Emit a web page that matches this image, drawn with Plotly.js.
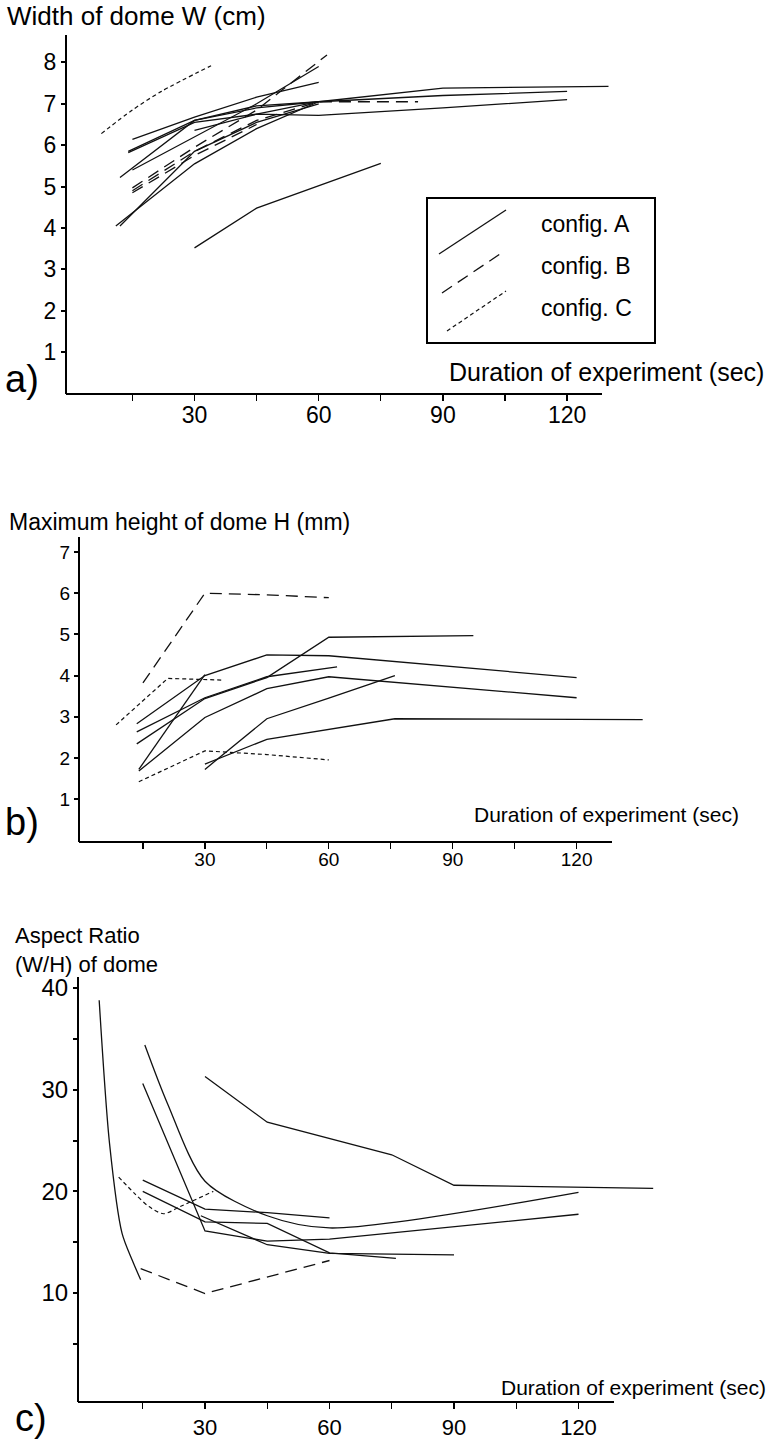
<!DOCTYPE html>
<html><head><meta charset="utf-8">
<script src="https://cdn.plot.ly/plotly-3.0.1.min.js"></script>
<style>html,body{margin:0;padding:0;background:#fff}#chart{width:770px;height:1441px}</style>
</head><body><div id="chart"></div>
<script>
// ---------------- DATA ----------------
// Tick labels
const xTickVals = [15, 30, 45, 60, 75, 90, 105, 120];
const xTickText = ['', '30', '', '60', '', '90', '', '120'];
const aTickVals = [1, 2, 3, 4, 5, 6, 7, 8];
const bTickVals = [1, 2, 3, 4, 5, 6, 7];
const cTickVals = [5, 10, 15, 20, 25, 30, 35, 40];
const cTickText = ['', '10', '', '20', '', '30', '', '40'];

// Panel a) Width of dome W (cm)
const aA1x = [15, 30, 45, 60];            const aA1y = [6.14, 6.68, 7.16, 7.52];
const aA2x = [14, 30, 45, 60, 90, 130];   const aA2y = [5.85, 6.6, 6.9, 7.05, 7.38, 7.42];
const aA3x = [14, 30, 45, 60, 90, 120];   const aA3y = [5.82, 6.55, 6.75, 6.72, 6.9, 7.1];
const aA4x = [30, 45, 60, 90, 120];       const aA4y = [6.36, 6.75, 7.05, 7.2, 7.3];
const aA5x = [12, 30, 45, 60];            const aA5y = [5.22, 6.6, 6.95, 7.05];
const aA6x = [15, 30, 45, 60];            const aA6y = [5.4, 6.2, 7.0, 7.9];
const aA7x = [11, 30, 45, 60];            const aA7y = [4.05, 5.55, 6.4, 7.05];
const aA8x = [12, 30, 45, 60];            const aA8y = [4.05, 5.85, 6.55, 7.0];
const aA9x = [30, 45, 75];                const aA9y = [3.52, 4.48, 5.56];
const aB1x = [15, 30, 45, 62];            const aB1y = [4.97, 5.95, 6.85, 8.18];
const aB2x = [15, 30, 45, 60, 84];        const aB2y = [4.9, 5.85, 6.6, 7.05, 7.05];
const aB3x = [15, 30, 45];                const aB3y = [4.85, 5.75, 6.5];
const aC1x = [7.5, 15, 22, 34];           const aC1y = [6.28, 6.85, 7.3, 7.92];

// Panel b) Maximum height of dome H (mm)
const bA1x = [13.5, 30, 45, 60, 120];     const bA1y = [2.83, 4.0, 4.5, 4.48, 3.95];
const bA2x = [13.5, 30, 45, 62];          const bA2y = [2.63, 3.46, 3.97, 4.21];
const bA3x = [13.5, 30, 45, 60, 95];      const bA3y = [2.34, 3.44, 3.95, 4.93, 4.97];
const bA4x = [14, 30];                    const bA4y = [1.72, 4.02];
const bA5x = [14, 30, 45, 60, 120];       const bA5y = [1.68, 2.98, 3.68, 3.97, 3.46];
const bA6x = [30, 45, 60, 76];            const bA6y = [1.72, 2.95, 3.45, 4.0];
const bA7x = [30, 45, 76, 136];           const bA7y = [1.85, 2.45, 2.95, 2.93];
const bB1x = [15, 30, 45, 60];            const bB1y = [3.82, 6.0, 5.96, 5.89];
const bC1x = [8.5, 21, 34];               const bC1y = [2.8, 3.93, 3.89];
const bC2x = [14, 30, 45, 60];            const bC2y = [1.42, 2.17, 2.08, 1.95];

// Panel c) Aspect Ratio (W/H) of dome
const cA1x = [4.5, 7, 10, 12.5, 14.5];    const cA1y = [38.8, 24.7, 15.9, 13.2, 11.3];
const cA2x = [30, 45, 75, 90, 138];       const cA2y = [31.3, 26.8, 23.6, 20.6, 20.3];
const cA3x = [15, 30, 45, 60];            const cA3y = [21.1, 18.25, 17.9, 17.4];
const cA4x = [15, 30, 45, 60, 76];        const cA4y = [20.0, 17.0, 16.85, 13.95, 13.4];
const cA5x = [15, 30, 45, 60, 120];       const cA5y = [30.6, 16.1, 15.1, 15.3, 17.75];
const cA6x = [15.5, 21, 30, 45, 60, 120]; const cA6y = [34.4, 28.6, 21.0, 17.6, 16.4, 19.9];
const cA7x = [29, 45, 60, 90];            const cA7y = [17.6, 14.75, 13.9, 13.75];
const cB1x = [14.5, 30, 60];              const cB1y = [12.4, 9.95, 13.2];
const cC1x = [9.2, 13, 16.5, 20, 24, 32]; const cC1y = [21.4, 19.8, 18.5, 17.8, 18.5, 20.0];

// ---------------- STYLE / LAYOUT ----------------
const W = 770, H = 1441;
const FN = 'Liberation Sans, Arial, Helvetica, sans-serif';
const styles = {
  A: {color: '#111', width: 1.3, dash: 'solid'},
  B: {color: '#111', width: 1.3, dash: '12px,7px'},
  C: {color: '#111', width: 1.2, dash: '4px,3px'}
};
// panel geometry in pixels: plot box, x origin px & px/sec, y origin px & px/unit, x-axis line end
const panels = {
  a: {left: 67, right: 650, top: 35, bottom: 394, x0: 70.3, xs: 4.14, y0: 393.6, ys: 41.4, axEnd: 602},
  b: {left: 80, right: 660, top: 537, bottom: 842, x0: 81, xs: 4.13, y0: 840.2, ys: 41.17, axEnd: 612},
  c: {left: 79, right: 660, top: 977, bottom: 1402, x0: 80.5, xs: 4.15, y0: 1394.7, ys: 10.167, axEnd: 614}
};
const px = v => v / W;
const py = v => 1 - v / H;

const traces = [];
function add(xs, ys, cfg, axis, spline) {
  const s = styles[cfg];
  traces.push({
    x: xs, y: ys, type: 'scatter', mode: 'lines',
    xaxis: 'x' + axis, yaxis: 'y' + axis, showlegend: false, hoverinfo: 'skip',
    line: {color: s.color, width: s.width, dash: s.dash, shape: spline ? 'spline' : 'linear', smoothing: 0.8}
  });
}
// panel a
add(aA1x, aA1y, 'A', ''); add(aA2x, aA2y, 'A', ''); add(aA3x, aA3y, 'A', '');
add(aA4x, aA4y, 'A', ''); add(aA5x, aA5y, 'A', ''); add(aA6x, aA6y, 'A', '');
add(aA7x, aA7y, 'A', ''); add(aA8x, aA8y, 'A', ''); add(aA9x, aA9y, 'A', '');
add(aB1x, aB1y, 'B', ''); add(aB2x, aB2y, 'B', ''); add(aB3x, aB3y, 'B', '');
add(aC1x, aC1y, 'C', '', true);
// panel b
add(bA1x, bA1y, 'A', '2'); add(bA2x, bA2y, 'A', '2'); add(bA3x, bA3y, 'A', '2');
add(bA4x, bA4y, 'A', '2'); add(bA5x, bA5y, 'A', '2'); add(bA6x, bA6y, 'A', '2');
add(bA7x, bA7y, 'A', '2');
add(bB1x, bB1y, 'B', '2');
add(bC1x, bC1y, 'C', '2'); add(bC2x, bC2y, 'C', '2');
// panel c
add(cA1x, cA1y, 'A', '3', true); add(cA2x, cA2y, 'A', '3'); add(cA3x, cA3y, 'A', '3');
add(cA4x, cA4y, 'A', '3'); add(cA5x, cA5y, 'A', '3'); add(cA6x, cA6y, 'A', '3', true);
add(cA7x, cA7y, 'A', '3');
add(cB1x, cB1y, 'B', '3');
add(cC1x, cC1y, 'C', '3', true);

function xAxis(p, anchor, tfont) {
  return {
    domain: [px(p.left), px(p.right)], anchor: anchor,
    range: [(p.left - p.x0) / p.xs, (p.right - p.x0) / p.xs],
    showline: false, zeroline: false, showgrid: false, automargin: false,
    ticks: 'outside', ticklen: 6, tickwidth: 1.2, tickcolor: '#000',
    tickmode: 'array', tickvals: xTickVals, ticktext: xTickText,
    tickfont: tfont, fixedrange: true
  };
}
function yAxis(p, anchor, vals, text, tfont) {
  return {
    domain: [py(p.bottom), py(p.top)], anchor: anchor,
    range: [(p.y0 - p.bottom) / p.ys, (p.y0 - p.top) / p.ys],
    showline: true, linewidth: 2, linecolor: '#000', mirror: false,
    zeroline: false, showgrid: false, automargin: false,
    ticks: 'outside', ticklen: 4, tickwidth: 2, tickcolor: '#000',
    tickmode: 'array', tickvals: vals, ticktext: text || vals.map(String),
    tickfont: tfont, fixedrange: true
  };
}
const tfA = {family: FN, size: 23, color: '#000'};
const tfB = {family: FN, size: 19, color: '#000'};
const tfCx = {family: FN, size: 22, color: '#000'};
const tfCy = {family: FN, size: 24, color: '#000'};

const shapes = [];
['a', 'b', 'c'].forEach(k => {
  const p = panels[k];
  shapes.push({type: 'line', xref: 'paper', yref: 'paper',
    x0: px(p.left - 1), x1: px(p.axEnd), y0: py(p.bottom), y1: py(p.bottom),
    line: {color: '#000', width: 2}});
});
// legend box (panel a)
shapes.push({type: 'rect', xref: 'paper', yref: 'paper', x0: px(427), x1: px(655), y0: py(198), y1: py(343),
  line: {color: '#000', width: 2}, fillcolor: 'rgba(0,0,0,0)'});
const legendItems = [
  {cfg: 'A', label: 'config. A', x0: 439, y0: 254, x1: 506, y1: 210, ty: 224},
  {cfg: 'B', label: 'config. B', x0: 442, y0: 293, x1: 503, y1: 252, ty: 266},
  {cfg: 'C', label: 'config. C', x0: 447, y0: 331, x1: 506, y1: 291, ty: 308}
];
const annotations = [];
legendItems.forEach(it => {
  const s = styles[it.cfg];
  shapes.push({type: 'line', xref: 'paper', yref: 'paper', x0: px(it.x0), y0: py(it.y0), x1: px(it.x1), y1: py(it.y1),
    line: {color: s.color, width: s.width, dash: s.dash}});
  annotations.push({xref: 'paper', yref: 'paper', x: px(539), y: py(it.ty), xanchor: 'left', yanchor: 'middle',
    text: it.label, showarrow: false, font: {family: FN, size: 23, color: '#000'}});
});
function txt(t, x, y, xa, size) {
  annotations.push({xref: 'paper', yref: 'paper', x: px(x), y: py(y), xanchor: xa, yanchor: 'middle',
    text: t, showarrow: false, font: {family: FN, size: size, color: '#000'}, align: 'left'});
}
// panel a texts
txt('Width of dome W (cm)', 5, 16, 'left', 26);
txt('Duration of experiment (sec)', 766, 372, 'right', 25);
txt('a)', 3, 379, 'left', 38);
// panel b texts
txt('Maximum height of dome H (mm)', 7, 522, 'left', 23);
txt('Duration of experiment (sec)', 741, 815, 'right', 21);
txt('b)', 3, 822, 'left', 38);
// panel c texts
txt('Aspect Ratio<br>(W/H) of dome', 13, 950, 'left', 22);
txt('Duration of experiment (sec)', 768, 1387, 'right', 21);
txt('c)', 13, 1418, 'left', 38);

const layout = {
  width: W, height: H, margin: {l: 0, r: 0, t: 0, b: 0, autoexpand: false},
  paper_bgcolor: '#fff', plot_bgcolor: '#fff', showlegend: false,
  xaxis: xAxis(panels.a, 'y', tfA), yaxis: yAxis(panels.a, 'x', aTickVals, null, tfA),
  xaxis2: xAxis(panels.b, 'y2', tfB), yaxis2: yAxis(panels.b, 'x2', bTickVals, null, tfB),
  xaxis3: xAxis(panels.c, 'y3', tfCx), yaxis3: yAxis(panels.c, 'x3', cTickVals, cTickText, tfCy),
  shapes: shapes, annotations: annotations
};

// pull x tick labels of panels a and b slightly closer to their axis line (idempotent)
const LIFT = ' translate(0,-6)';
function liftTicks() {
  ['xaxislayer-above'].forEach(() => {});
  document.querySelectorAll('#chart .xtick text, #chart .x2tick text').forEach(t => {
    const tr = (t.getAttribute('transform') || '').replace(LIFT, '');
    t.setAttribute('transform', tr + LIFT);
  });
}
const gdiv = document.getElementById('chart');
Plotly.newPlot(gdiv, traces, layout, {staticPlot: true, displayModeBar: false}).then(gd => {
  liftTicks();
  gd.on('plotly_afterplot', liftTicks);
  setTimeout(liftTicks, 30);
});
</script></body></html>
